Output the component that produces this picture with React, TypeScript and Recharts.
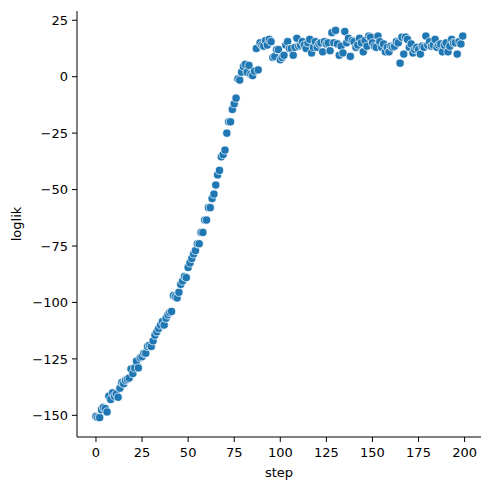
import { ScatterChart, Scatter, XAxis, YAxis } from 'recharts'

// loglik per step (steps are 0..199, one value each)
const loglik: number[] = [
  -150.5, -151, -151, -147.5, -146.5, -147, -148.5, -141.5, -143, -140,
  -141.5, -140.5, -142, -138, -135.5, -136, -134.5, -134, -133.5, -129.5,
  -131.5, -129, -126, -129, -124.5, -124, -122.5, -122.5, -119.5, -119,
  -119.5, -117, -114.5, -113, -111.5, -110, -108.5, -110, -107, -105.5,
  -104.5, -104, -97, -97.5, -98, -95.5, -92, -90.5, -88.5, -89,
  -84.5, -82.5, -80.5, -78.5, -77, -74, -74, -69, -69, -63.5,
  -63.5, -58, -58, -54, -52, -48, -43.5, -41.5, -35.5, -34.5,
  -32.5, -25, -20, -20, -14.5, -12, -9.5, -1, -1.5, 2,
  4.5, 5.5, 2, 5, 1, 0.5, 2.5, 12.5, 3, 15,
  14, 13.5, 16, 14, 16.5, 15.5, 8.5, 9, 12, 12,
  7.5, 8.5, 9.5, 14, 15.5, 12.5, 12.5, 9.5, 13, 17,
  13.5, 14, 15.5, 14, 12.5, 15, 16.5, 10.5, 13, 15.5,
  13, 14.5, 15, 11, 15.5, 14.5, 15, 11.5, 19.5, 15,
  20.5, 14.5, 9.5, 13.5, 10.5, 20, 15, 17, 9, 16,
  15.5, 13, 14, 17, 15, 11, 16, 13.5, 18, 17.5,
  15, 13.5, 13, 18, 15.5, 13, 14.5, 11, 13, 11,
  13.5, 13, 13.5, 15.5, 15, 6, 17.5, 10, 17.5, 16.5,
  13, 14.5, 10.5, 12, 13, 12, 10, 13.5, 13, 18,
  14, 15.5, 13.5, 14, 16.5, 13, 14, 14.5, 11, 14,
  15, 11, 13.5, 16.5, 15, 15, 10, 15.5, 14.5, 18,
]

const xTicks = [0, 25, 50, 75, 100, 125, 150, 175, 200]
const yTicks = [-150, -125, -100, -75, -50, -25, 0, 25]

const data = loglik.map((v, i) => ({ step: i, loglik: v }))

const font = 'DejaVu Sans, sans-serif'
const fmt = (v: number) => String(v).replace('-', '\u2212')

// seaborn style marker: blue dot with thin white edge
const Dot = (props: any) => {
  const { cx, cy } = props
  if (cx === undefined || cy === undefined) return null
  return <circle cx={cx} cy={cy} r={4.1} fill="#1f77b4" stroke="#fff" strokeWidth={0.7} />
}

export default function App() {
  return (
    <div style={{ position: 'absolute', left: 0, top: 0, width: 489, height: 490, background: '#fff' }}>
      <ScatterChart width={489} height={490} margin={{ top: 11, right: 8, bottom: 0, left: 0 }}>
        <XAxis
          type="number"
          dataKey="step"
          domain={[-10.3, 208.9]}
          ticks={xTicks}
          allowDataOverflow
          height={53}
          tickSize={5}
          tickMargin={6}
          stroke="#000"
          strokeWidth={1}
          tick={{ fill: '#000', fontSize: 13, fontFamily: font }}
          tickFormatter={fmt}
          label={{ value: 'step', position: 'insideBottom', offset: 13, fill: '#000', fontSize: 13, fontFamily: font }}
        />
        <YAxis
          type="number"
          dataKey="loglik"
          domain={[-159.6, 29.1]}
          ticks={yTicks}
          allowDataOverflow
          width={77}
          tickSize={5}
          tickMargin={4}
          stroke="#000"
          strokeWidth={1}
          tick={{ fill: '#000', fontSize: 13, fontFamily: font }}
          tickFormatter={fmt}
          label={{
            value: 'loglik',
            angle: -90,
            position: 'insideLeft',
            offset: 16,
            fill: '#000',
            fontSize: 13,
            fontFamily: font,
            style: { textAnchor: 'middle' },
          }}
        />
        <Scatter data={data} shape={<Dot />} isAnimationActive={false} />
      </ScatterChart>
    </div>
  )
}
